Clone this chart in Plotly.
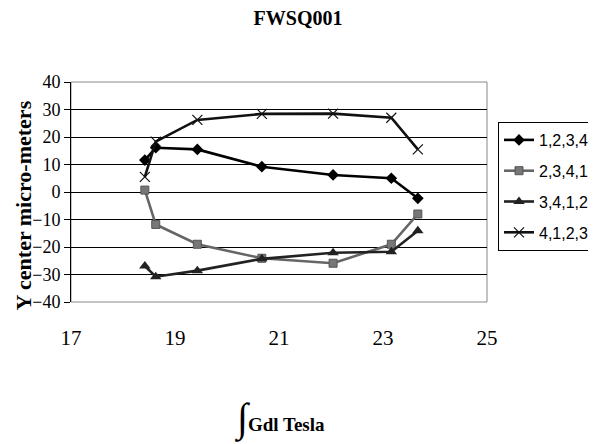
import plotly.graph_objects as go

title_text = "FWSQ001"
y_title = "Y center micro-meters"
x_title = "<span style='font-size:40px;font-weight:normal'>∫</span>Gdl Tesla"

x_vals = [18.42, 18.63, 19.43, 20.67, 22.04, 23.16, 23.67]
s1_name = "1,2,3,4"
s1_vals = [11.6, 16.1, 15.5, 9.2, 6.2, 5.0, -2.3]
s2_name = "2,3,4,1"
s2_vals = [0.7, -11.8, -19.0, -24.1, -25.9, -19.0, -8.0]
s3_name = "3,4,1,2"
s3_vals = [-26.9, -30.8, -28.6, -24.3, -22.1, -21.7, -14.1]
s4_name = "4,1,2,3"
s4_vals = [5.5, 18.3, 26.2, 28.4, 28.5, 27.0, 15.5]

x_ticks = [17, 19, 21, 23, 25]
y_ticks = [-40, -30, -20, -10, 0, 10, 20, 30, 40]

serif = "Liberation Serif"
sans = "Liberation Sans"

# page has an 8px body margin: figure coordinates = screen coordinates - 8
OFF = 8
W, H = 596 - OFF, 444 - OFF
L, R, T, B = 71 - OFF, 487 - OFF, 82 - OFF, 302 - OFF
pw, ph = R - L, B - T


def px(sx):
    return (sx - OFF - L) / pw


def py(sy):
    return (B - (sy - OFF)) / ph


fig = go.Figure()
series = [
    (s1_name, s1_vals, "#000000", dict(symbol="diamond", size=9, color="#000000")),
    (s2_name, s2_vals, "#666666", dict(symbol="square", size=8, color="#777777",
                                        line=dict(color="#555555", width=1))),
    (s3_name, s3_vals, "#222222", dict(symbol="triangle-up", size=10, color="#222222")),
    (s4_name, s4_vals, "#111111", dict(symbol="x-thin-open", size=10,
                                        line=dict(color="#111111", width=1.2))),
]
for i, (name, vals, col, mk) in enumerate(series):
    fig.add_trace(go.Scatter(
        x=x_vals, y=vals, name=name, mode="lines+markers",
        line=dict(color=col, width=2.6), marker=mk,
        legendgroup=f"g{i}",
    ))

fig.update_layout(
    width=W, height=H,
    margin=dict(l=L, r=W - R, t=T, b=H - B, autoexpand=False),
    paper_bgcolor="white", plot_bgcolor="white",
    title=dict(text=f"<b>{title_text}</b>", x=(298 - OFF) / W, xanchor="center",
               y=1 - 3 / H, yanchor="top", pad=dict(t=0, b=0, l=0, r=0),
               font=dict(family=serif, size=20, color="black")),
    xaxis=dict(range=[17, 25], tickvals=x_ticks, ticktext=[str(v) for v in x_ticks],
               showgrid=False, zeroline=False, showline=False, ticks="",
               ticklabelstandoff=21, automargin=False,
               tickfont=dict(family=serif, size=21, color="black")),
    xaxis2=dict(overlaying="x", matches="x", anchor="free", position=0.5,
                range=[17, 25], tickvals=x_ticks, showticklabels=False,
                showgrid=False, zeroline=False, showline=True, linecolor="black",
                linewidth=1, ticks="outside", ticklen=7, tickcolor="black",
                automargin=False),
    yaxis=dict(range=[-40, 40], tickvals=y_ticks, showgrid=True, gridcolor="black",
               gridwidth=1, zeroline=False, showline=True, linecolor="black",
               linewidth=1, ticks="outside", ticklen=6, tickcolor="black",
               automargin=False,
               tickfont=dict(family=serif, size=18, color="black")),
    legend=dict(x=px(595), xanchor="right", y=py(122), yanchor="top",
                bordercolor="black", borderwidth=1, bgcolor="white",
                font=dict(family=sans, size=16, color="black"),
                tracegroupgap=7, itemwidth=30),
    shapes=[dict(type="rect", xref="paper", yref="paper", x0=0, x1=1, y0=0, y1=1,
                 line=dict(color="#888888", width=1), layer="below")],
    annotations=[
        dict(text=f"<b>{y_title}</b>", textangle=-90, xref="paper", yref="paper",
             x=px(OFF), y=py(206), xanchor="left", yanchor="middle",
             showarrow=False, font=dict(family=serif, size=22, color="black")),
        dict(text=f"<b>{x_title}</b>", xref="paper", yref="paper",
             x=px(279), y=py(418), xanchor="center", yanchor="middle",
             showarrow=False, font=dict(family=serif, size=19, color="black")),
    ],
)

fig.write_html("out.html")
